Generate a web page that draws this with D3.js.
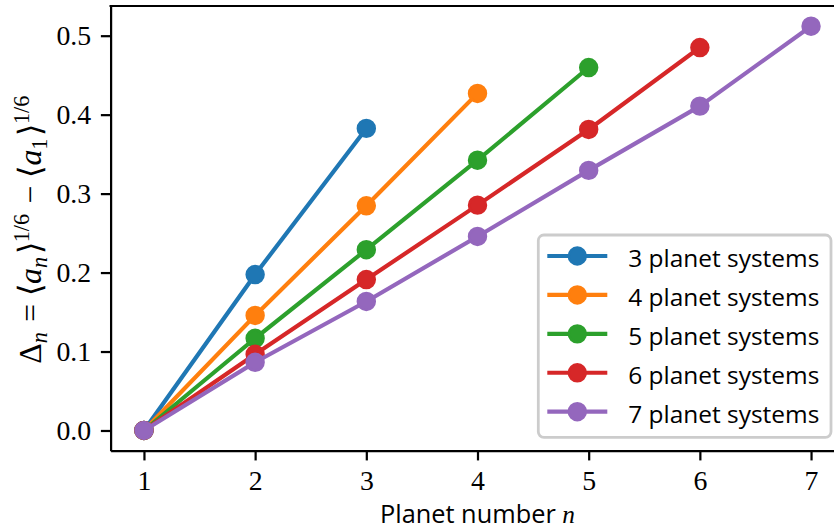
<!DOCTYPE html>
<html>
<head>
<meta charset="utf-8">
<script src="https://cdn.jsdelivr.net/npm/d3@7"></script>
<style>
  html, body { margin: 0; padding: 0; background: #fff; }
  svg { display: block; }
</style>
</head>
<body>
<svg id="chart" width="834" height="531"></svg>
<script>
// ---- data ----
const planetNumbers = [1, 2, 3, 4, 5, 6, 7];
const xTicks = [1, 2, 3, 4, 5, 6, 7];
const yTicks = [0.0, 0.1, 0.2, 0.3, 0.4, 0.5];
const seriesNames = ["3 planet systems", "4 planet systems", "5 planet systems", "6 planet systems", "7 planet systems"];
const sys3 = [0, 0.1975, 0.3826];
const sys4 = [0, 0.1457, 0.2846, 0.4269];
const sys5 = [0, 0.1167, 0.2290, 0.3423, 0.4597];
const sys6 = [0, 0.0965, 0.1912, 0.2854, 0.3812, 0.4850];
const sys7 = [0, 0.0864, 0.1634, 0.2457, 0.3294, 0.4108, 0.5120];
const colors = ["#1f77b4", "#ff7f0e", "#2ca02c", "#d62728", "#9467bd"];
const xLabelText = "Planet number ";

(function () {
const seriesValues = [sys3, sys4, sys5, sys6, sys7];
const series = seriesValues.map((vals, i) => ({
  name: seriesNames[i],
  color: colors[i],
  points: vals.map((v, j) => ({ n: planetNumbers[j], v }))
}));

// ---- layout ----
const px = 200 / 72; // points -> pixels (figure rendered at 200 dpi)
const fs = 10 * px;   // 10pt font
const axL = 110.6, axR = 844.4, axT = 6, axB = 450.7;

const svg = d3.select("#chart");

const x = d3.scaleLinear().domain([0.7, 7.3]).range([axL, axR]);
const yMaxData = 0.512, yMargin = 0.05 * yMaxData;
const y = d3.scaleLinear().domain([-yMargin, yMaxData + yMargin]).range([axB, axT]);

const serif = "'Liberation Serif', 'Times New Roman', serif";
const sans = "'Open Sans', 'DejaVu Sans', sans-serif";

// ---- data lines and markers ----
const line = d3.line().x(d => x(d.n)).y(d => y(d.v));
const gData = svg.append("g");
series.forEach(s => {
  const g = gData.append("g");
  g.append("path")
    .attr("d", line(s.points))
    .attr("fill", "none")
    .attr("stroke", s.color)
    .attr("stroke-width", 1.5 * px)
    .attr("stroke-linejoin", "round")
    .attr("stroke-linecap", "butt");
  g.selectAll("circle").data(s.points).join("circle")
    .attr("cx", d => x(d.n))
    .attr("cy", d => y(d.v))
    .attr("r", 3 * px)
    .attr("fill", s.color)
    .attr("stroke", s.color)
    .attr("stroke-width", 1 * px);
});

// ---- axes ----
const spineW = 0.8 * px;
const tickLen = 3.5 * px;
const xAxis = d3.axisBottom(x).tickValues(xTicks).tickFormat(d3.format("d"))
  .tickSize(tickLen).tickSizeOuter(0).tickPadding(3.5 * px);
const yAxis = d3.axisLeft(y).tickValues(yTicks).tickFormat(d3.format(".1f"))
  .tickSize(tickLen).tickSizeOuter(0).tickPadding(3.5 * px);

const gx = svg.append("g").attr("transform", `translate(0,${axB})`).call(xAxis);
const gy = svg.append("g").attr("transform", `translate(${axL},0)`).call(yAxis);
[gx, gy].forEach(g => {
  g.select(".domain").attr("stroke", "#000").attr("stroke-width", spineW);
  g.selectAll(".tick line").attr("stroke", "#000").attr("stroke-width", spineW);
  g.selectAll(".tick text").attr("font-family", serif).attr("font-size", fs).attr("fill", "#000");
});
gy.selectAll(".tick text").attr("dy", "0.33em");

// top spine (right spine lies outside the picture)
svg.append("line")
  .attr("x1", axL - spineW / 2).attr("x2", axR)
  .attr("y1", axT).attr("y2", axT)
  .attr("stroke", "#000").attr("stroke-width", spineW);

// ---- fit helper ----
function fitWidth(sel, target) {
  const w = sel.node().getBBox().width;
  const cur = parseFloat(sel.attr("font-size"));
  sel.attr("font-size", cur * target / w);
}

// ---- x label ----
const xl = svg.append("text")
  .attr("x", (axL + axR) / 2)
  .attr("y", 523)
  .attr("text-anchor", "middle")
  .attr("font-family", sans)
  .attr("font-size", fs)
  .attr("fill", "#000");
xl.append("tspan").text(xLabelText);
xl.append("tspan").attr("font-family", serif).attr("font-style", "italic").text("n");
fitWidth(xl, 195);

// ---- y label ----
const yl = svg.append("text")
  .attr("transform", `translate(41,${(axT + axB) / 2}) rotate(-90)`)
  .attr("text-anchor", "middle")
  .attr("font-family", serif)
  .attr("font-size", fs)
  .attr("fill", "#000");
const small = 0.7;
function sub(t, it) {
  yl.append("tspan").attr("font-size", `${small}em`).attr("font-style", it ? "italic" : "normal")
    .attr("dy", "0.25em").text(t);
  yl.append("tspan").attr("dy", "-0.175em").text("\u200A");
}
function sup(t) {
  yl.append("tspan").attr("font-size", `${small}em`).attr("dy", "-0.55em").text(t);
  yl.append("tspan").attr("dy", "0.385em").text("\u200A");
}
yl.append("tspan").text("\u0394");
sub("n", true);
yl.append("tspan").text(" = \u27E8");
yl.append("tspan").attr("font-style", "italic").text("a");
sub("n", true);
yl.append("tspan").text("\u27E9");
sup("1/6");
yl.append("tspan").text(" \u2212 \u27E8");
yl.append("tspan").attr("font-style", "italic").text("a");
sub("1", false);
yl.append("tspan").text("\u27E9");
sup("1/6");
fitWidth(yl, 273);

// ---- legend ----
const legX0 = 538.3, legY0 = 235, legX1 = 831, legY1 = 437.3;
const gl = svg.append("g");
gl.append("rect")
  .attr("x", legX0).attr("y", legY0)
  .attr("width", legX1 - legX0).attr("height", legY1 - legY0)
  .attr("rx", 0.2 * fs).attr("ry", 0.2 * fs)
  .attr("fill", "#fff").attr("fill-opacity", 0.8)
  .attr("stroke", "#cccccc").attr("stroke-width", 1 * px);

const rowY = d3.scalePoint().domain(seriesNames).range([256, 411.7]);
const rows = gl.selectAll("g.row").data(series).join("g").attr("class", "row")
  .attr("transform", d => `translate(0,${rowY(d.name)})`);
rows.append("line")
  .attr("x1", 547.3).attr("x2", 607.3)
  .attr("stroke", d => d.color).attr("stroke-width", 1.5 * px);
rows.append("circle")
  .attr("cx", 577.3).attr("r", 3 * px)
  .attr("fill", d => d.color).attr("stroke", d => d.color).attr("stroke-width", 1 * px);
const lt = rows.append("text")
  .attr("x", 628.3).attr("y", 11)
  .attr("font-family", sans).attr("font-size", fs).attr("fill", "#000")
  .text(d => d.name);
const w0 = lt.node().getBBox().width;
lt.attr("font-size", fs * 191 / w0);
})();
</script>
</body>
</html>
